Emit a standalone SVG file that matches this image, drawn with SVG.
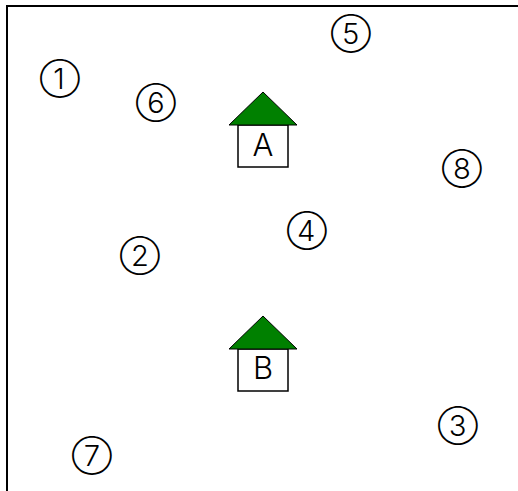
<svg xmlns="http://www.w3.org/2000/svg" width="518" height="491" viewBox="0 0 518 491">
<style>
text{fill:#000;text-anchor:middle}
.n{font-family:"Inter",sans-serif;font-size:29px;font-weight:350}
.l{font-family:"Inter",sans-serif;font-size:31px;font-weight:300}
.roof{fill:#008000;stroke:#000;stroke-width:1}
.body{fill:#fff;stroke:#000;stroke-width:1.5}
</style>
<path d="M7 491V6H518" fill="none" stroke="#000" stroke-width="2"/>
<g id="connectors"/>
<g id="node-1"><text class="n" x="60" y="89">①</text></g>
<g id="node-2"><text class="n" x="140" y="266">②</text></g>
<g id="node-3"><text class="n" x="458" y="436">③</text></g>
<g id="node-4"><text class="n" x="307" y="241">④</text></g>
<g id="node-5"><text class="n" x="351" y="44">⑤</text></g>
<g id="node-6"><text class="n" x="156" y="113">⑥</text></g>
<g id="node-7"><text class="n" x="92" y="466">⑦</text></g>
<g id="node-8"><text class="n" x="462" y="179">⑧</text></g>
<g id="node-A"><rect class="body" x="238" y="125" width="50" height="42"/><polygon class="roof" points="263,92 297,125 229,125"/><text class="l" x="263" y="156">A</text></g>
<g id="node-B"><rect class="body" x="238" y="349" width="50" height="42"/><polygon class="roof" points="263,316 297,349 229,349"/><text class="l" x="263" y="379">B</text></g>
</svg>
